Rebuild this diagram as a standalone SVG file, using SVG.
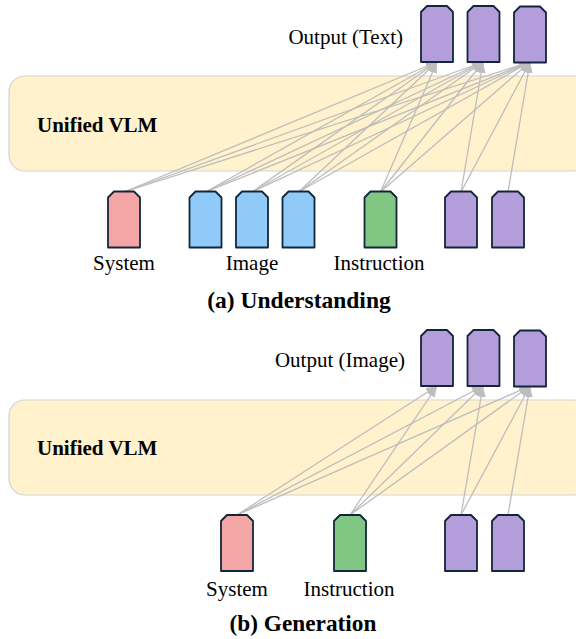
<svg xmlns="http://www.w3.org/2000/svg" width="576" height="639" viewBox="0 0 576 639">
  <defs>
    <style>
      .vlm { fill: #FFF2CC; stroke: #D3D3D3; stroke-width: 1.2; }
      .tok { stroke: #12263A; stroke-width: 1.8; stroke-linejoin: round; }
      .sys { fill: #F4A6A6; }
      .img { fill: #90CAF9; }
      .ins { fill: #81C784; }
      .out { fill: #B39DDB; }
      .lbl { font-family: "Liberation Serif", "Times New Roman", serif; font-size: 21px; fill: #000; }
      .bold { font-family: "Liberation Serif", "Times New Roman", serif; font-weight: bold; fill: #000; }
      .edge { stroke: #BDBDBD; stroke-width: 1.3; fill: none; marker-end: url(#arrow); }
    </style>
    <marker id="arrow" markerUnits="userSpaceOnUse" markerWidth="11" markerHeight="9" refX="11" refY="4.5" orient="auto">
      <path d="M0,0 L11,4.5 L0,9 Z" fill="#BDBDBD"/>
    </marker>
    <!-- token shape: 32 wide, 56 tall, chamfered top corners -->
    <path id="token" d="M0,6 L6,0 L26,0 L32,6 L32,56 L0,56 Z"/>
  </defs>

  <!-- (a) Understanding -->
  <g id="vlm-a">
    <rect class="vlm" x="9" y="76" width="580" height="95" rx="16"/>
    <text class="bold" x="37" y="132" font-size="21">Unified VLM</text>
  </g>

  <g id="connectors-a">
    <line class="edge" x1="124" y1="192" x2="437" y2="62"/>
    <line class="edge" x1="124" y1="192" x2="483" y2="62"/>
    <line class="edge" x1="124" y1="192" x2="530" y2="62"/>
    <line class="edge" x1="205.5" y1="192" x2="437" y2="62"/>
    <line class="edge" x1="205.5" y1="192" x2="483" y2="62"/>
    <line class="edge" x1="205.5" y1="192" x2="530" y2="62"/>
    <line class="edge" x1="252" y1="192" x2="437" y2="62"/>
    <line class="edge" x1="252" y1="192" x2="483" y2="62"/>
    <line class="edge" x1="252" y1="192" x2="530" y2="62"/>
    <line class="edge" x1="298.5" y1="192" x2="437" y2="62"/>
    <line class="edge" x1="298.5" y1="192" x2="483" y2="62"/>
    <line class="edge" x1="298.5" y1="192" x2="530" y2="62"/>
    <line class="edge" x1="380.5" y1="192" x2="437" y2="62"/>
    <line class="edge" x1="380.5" y1="192" x2="483" y2="62"/>
    <line class="edge" x1="380.5" y1="192" x2="530" y2="62"/>
    <line class="edge" x1="461" y1="192" x2="483" y2="62"/>
    <line class="edge" x1="461" y1="192" x2="530" y2="62"/>
    <line class="edge" x1="508" y1="192" x2="530" y2="62"/>
  </g>

  <g id="out-a">
    <text class="lbl" x="403" y="44" text-anchor="end" font-size="20">Output (Text)</text>
    <use href="#token" class="tok out" x="421" y="6"/>
    <use href="#token" class="tok out" x="467.5" y="6"/>
    <use href="#token" class="tok out" x="514" y="6.5"/>
  </g>

  <g id="system-a">
    <use href="#token" class="tok sys" x="108" y="191.5"/>
    <text class="lbl" x="124" y="270" text-anchor="middle">System</text>
  </g>
  <g id="image-a">
    <use href="#token" class="tok img" x="189.5" y="191.5"/>
    <use href="#token" class="tok img" x="236" y="191.5"/>
    <use href="#token" class="tok img" x="282.5" y="191.5"/>
    <text class="lbl" x="252" y="270" text-anchor="middle">Image</text>
  </g>
  <g id="instruction-a">
    <use href="#token" class="tok ins" x="364.5" y="191.5"/>
    <text class="lbl" x="379" y="270" text-anchor="middle">Instruction</text>
  </g>
  <g id="prev-a">
    <use href="#token" class="tok out" x="445" y="191.5"/>
    <use href="#token" class="tok out" x="492" y="191.5"/>
  </g>

  <text class="bold" x="299" y="308" text-anchor="middle" font-size="23.5">(a) Understanding</text>

  <!-- (b) Generation -->
  <g id="vlm-b">
    <rect class="vlm" x="9" y="400" width="580" height="95" rx="16"/>
    <text class="bold" x="37" y="455" font-size="21">Unified VLM</text>
  </g>

  <g id="connectors-b">
    <line class="edge" x1="237" y1="515" x2="437" y2="386"/>
    <line class="edge" x1="237" y1="515" x2="483" y2="386"/>
    <line class="edge" x1="237" y1="515" x2="530" y2="386"/>
    <line class="edge" x1="350" y1="515" x2="437" y2="386"/>
    <line class="edge" x1="350" y1="515" x2="483" y2="386"/>
    <line class="edge" x1="350" y1="515" x2="530" y2="386"/>
    <line class="edge" x1="461" y1="515" x2="483" y2="386"/>
    <line class="edge" x1="461" y1="515" x2="530" y2="386"/>
    <line class="edge" x1="508" y1="515" x2="530" y2="386"/>
  </g>

  <g id="out-b">
    <text class="lbl" x="405" y="367" text-anchor="end" font-size="22">Output (Image)</text>
    <use href="#token" class="tok out" x="421" y="330"/>
    <use href="#token" class="tok out" x="467.5" y="330"/>
    <use href="#token" class="tok out" x="514" y="330.5"/>
  </g>

  <g id="system-b">
    <use href="#token" class="tok sys" x="221" y="515"/>
    <text class="lbl" x="237" y="596" text-anchor="middle">System</text>
  </g>
  <g id="instruction-b">
    <use href="#token" class="tok ins" x="334" y="515"/>
    <text class="lbl" x="349" y="596" text-anchor="middle">Instruction</text>
  </g>
  <g id="prev-b">
    <use href="#token" class="tok out" x="445" y="515"/>
    <use href="#token" class="tok out" x="492" y="515"/>
  </g>

  <text class="bold" x="303" y="631" text-anchor="middle" font-size="23.3">(b) Generation</text>
</svg>
